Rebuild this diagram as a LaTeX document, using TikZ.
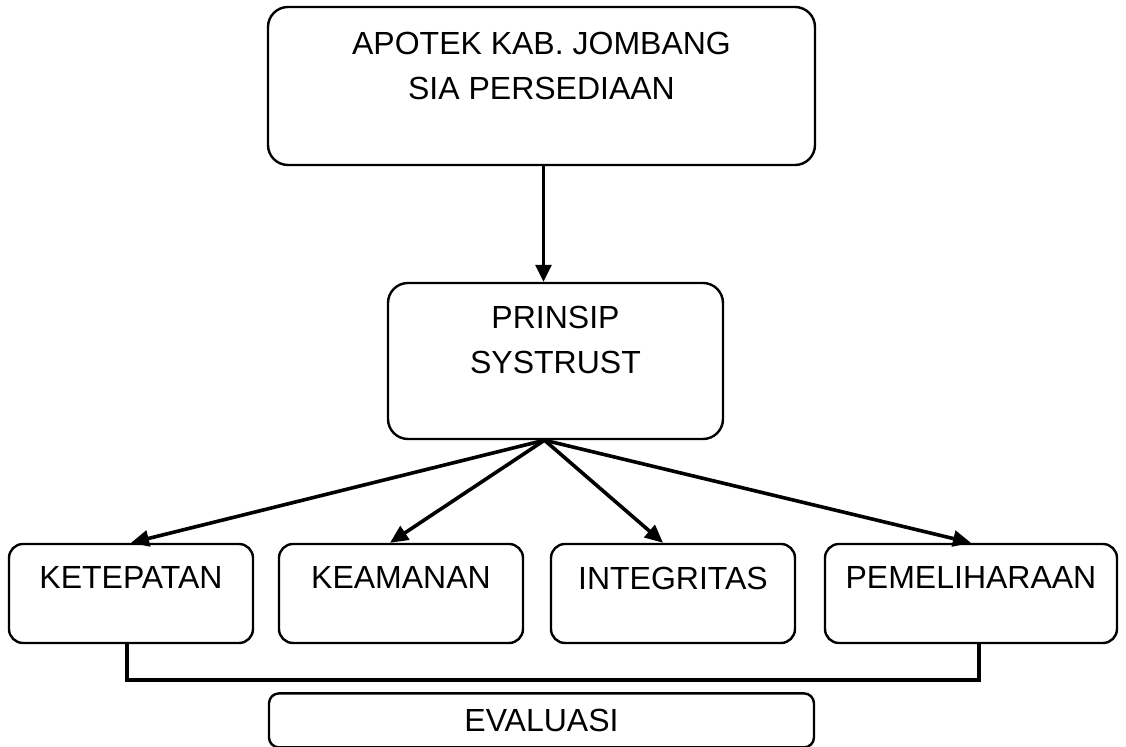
\documentclass[tikz,border=0pt]{standalone}
\usepackage{fontspec}
\setmainfont{Liberation Sans}
\usetikzlibrary{arrows.meta,positioning}
\tikzset{
  box/.style     ={rounded corners=10pt,draw=black,line width=1.2pt,align=center,
                   inner sep=3pt,font=\fontsize{16}{22.5}\selectfont},
  smallbox/.style={box,rounded corners=7pt,minimum width=122pt,minimum height=49.5pt,
                   text depth=15.5pt},
  flow/.style    ={-{Triangle[length=8.5pt,width=8pt]},line width=1.4pt,draw=black},
  fan/.style     ={-{Triangle[length=9pt,width=8pt]},line width=1.8pt,draw=black},
  bracket/.style ={line width=1.7pt,draw=black}
}

\begin{document}
\begin{tikzpicture}
  \path[use as bounding box,fill=white] (-270.75pt,43pt) rectangle (292.25pt,-330.5pt);
  \node[box,minimum width=273.5pt,minimum height=79pt,text depth=20.5pt] (top) at (0,0)
    {APOTEK KAB. JOMBANG\\SIA PERSEDIAAN};
  \node[box,minimum width=167.5pt,minimum height=78pt,text depth=21.5pt,
        below=57.8pt of top,xshift=7pt] (prinsip) {PRINSIP\\SYSTRUST};
  \node[smallbox,below left=51.3pt and 66.3pt of prinsip] (tepat) {KETEPATAN};
  \node[smallbox,right=11.8pt of tepat] (aman) {KEAMANAN};
  \node[smallbox,right=12.8pt of aman] (integ) {INTEGRITAS};
  \node[smallbox,right=13.8pt of integ,minimum width=146pt] (pelihara) {PEMELIHARAAN};
  \node[box,rounded corners=5pt,minimum width=272.5pt,minimum height=27pt,
        anchor=north,yshift=-24pt] (eval) at (top.south |- tepat.south) {EVALUASI};
  \draw[flow] ([xshift=1pt]top.south) -- ([xshift=1pt]top.south |- prinsip.north);
  \coordinate (fan) at ([xshift=1.5pt]top.south |- prinsip.south);
  \draw[fan] (fan) -- (tepat.north);
  \draw[fan] (fan) -- ([xshift=-5.5pt]aman.north);
  \draw[fan] (fan) -- ([xshift=-5pt]integ.north);
  \draw[fan] (fan) -- (pelihara.north);
  \draw[bracket] ([xshift=-2pt]tepat.south) -- ++(0,-18pt) -| ([xshift=4pt]pelihara.south);
\end{tikzpicture}
\end{document}
